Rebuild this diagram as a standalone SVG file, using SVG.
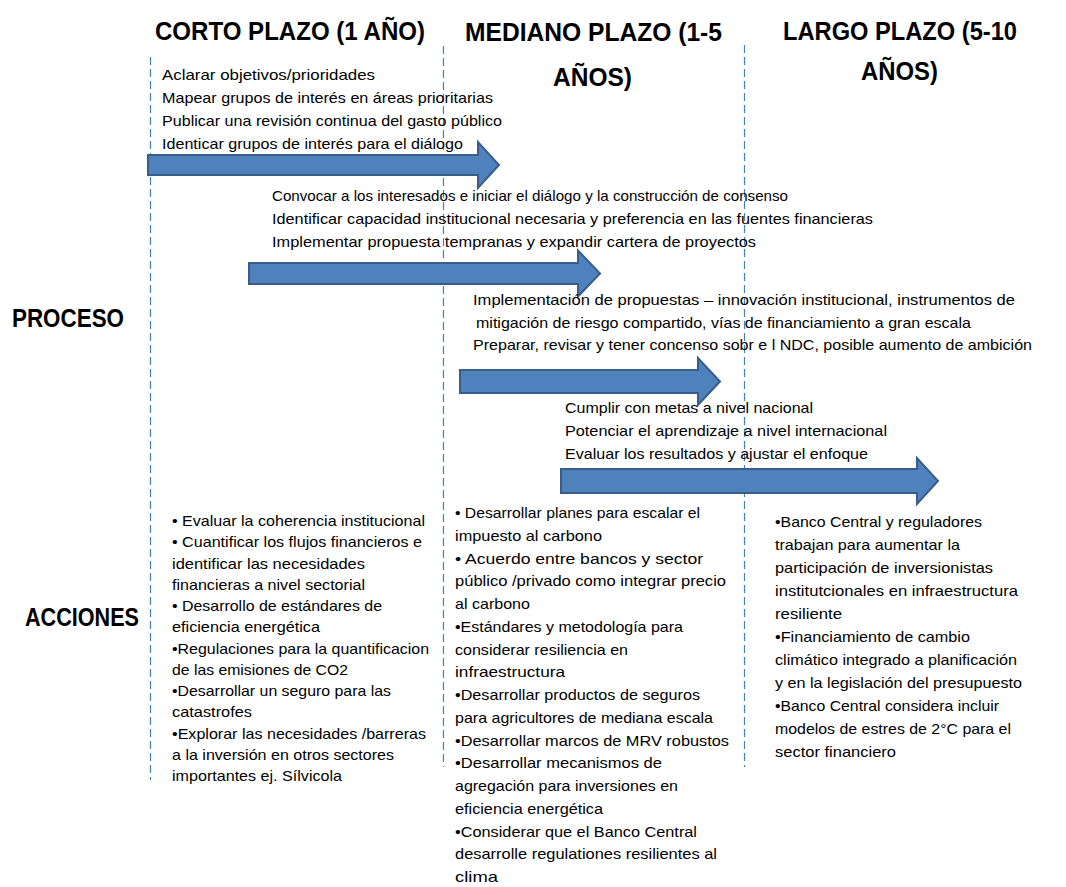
<svg xmlns="http://www.w3.org/2000/svg" width="1066" height="887" viewBox="0 0 1066 887">
<style>
.h{font-family:"Liberation Sans",Arial,sans-serif;font-weight:bold;font-size:26px;fill:#000}
.t{font-family:"Liberation Sans",Arial,sans-serif;font-size:15px;fill:#000}
.grid{stroke:#4a7ebb;stroke-width:1.2;stroke-dasharray:8 4;fill:none}
.arr{fill:#4f81bd;stroke:#385d8a;stroke-width:2}
</style>
<rect width="1066" height="887" fill="#fff"/>
<g id="gridlines">
<line class="grid" x1="150.5" y1="57" x2="150.5" y2="780"/>
<line class="grid" x1="443.5" y1="46" x2="443.5" y2="767"/>
<line class="grid" x1="744.5" y1="45" x2="744.5" y2="767"/>
</g>
<g id="connectors">
<path class="arr" d="M148,155 H478 V142 L499,165 L478,188 V175 H148 Z"/>
<path class="arr" d="M249,263 H578 V250.5 L600,273.5 L578,296.5 V284 H249 Z"/>
<path class="arr" d="M460,370 H698 V358 L720,381.5 L698,405 V393 H460 Z"/>
<path class="arr" d="M561,469 H917 V458 L938,481 L917,504 V493 H561 Z"/>
</g>
<g id="header-corto"><text class="h" x="155" y="40" textLength="270" lengthAdjust="spacingAndGlyphs">CORTO PLAZO (1 AÑO)</text></g>
<g id="header-mediano">
<text class="h" x="465" y="41" textLength="257" lengthAdjust="spacingAndGlyphs">MEDIANO PLAZO (1-5</text>
<text class="h" x="553" y="86" textLength="79" lengthAdjust="spacingAndGlyphs">AÑOS)</text>
</g>
<g id="header-largo">
<text class="h" x="783" y="40" textLength="234" lengthAdjust="spacingAndGlyphs">LARGO PLAZO (5-10</text>
<text class="h" x="861" y="80" textLength="77" lengthAdjust="spacingAndGlyphs">AÑOS)</text>
</g>
<g id="label-proceso"><text class="h" x="12" y="327" textLength="112" lengthAdjust="spacingAndGlyphs">PROCESO</text></g>
<g id="label-acciones"><text class="h" x="25" y="626" textLength="114" lengthAdjust="spacingAndGlyphs">ACCIONES</text></g>
<g id="proceso-1">
<text class="t" x="162" y="80" textLength="213" lengthAdjust="spacingAndGlyphs">Aclarar objetivos/prioridades</text>
<text class="t" x="162" y="103" textLength="331" lengthAdjust="spacingAndGlyphs">Mapear grupos de interés en áreas prioritarias</text>
<text class="t" x="162" y="126" textLength="340" lengthAdjust="spacingAndGlyphs">Publicar una revisión continua del gasto público</text>
<text class="t" x="162" y="149" textLength="301" lengthAdjust="spacingAndGlyphs">Identicar grupos de interés para el diálogo</text>
</g>
<g id="proceso-2">
<text class="t" x="272" y="201" textLength="516" lengthAdjust="spacingAndGlyphs">Convocar a los interesados e iniciar el diálogo y la construcción de consenso</text>
<text class="t" x="272" y="224" textLength="601" lengthAdjust="spacingAndGlyphs">Identificar capacidad institucional necesaria y preferencia en las fuentes financieras</text>
<text class="t" x="272" y="247" textLength="484" lengthAdjust="spacingAndGlyphs">Implementar propuesta tempranas y expandir cartera de proyectos</text>
</g>
<g id="proceso-3">
<text class="t" x="473" y="305" textLength="542" lengthAdjust="spacingAndGlyphs">Implementación de propuestas – innovación institucional, instrumentos de</text>
<text class="t" x="476" y="327.5" textLength="495" lengthAdjust="spacingAndGlyphs">mitigación de riesgo compartido, vías de financiamiento a gran escala</text>
<text class="t" x="473" y="350" textLength="559" lengthAdjust="spacingAndGlyphs">Preparar, revisar y tener concenso sobr e l NDC, posible aumento de ambición</text>
</g>
<g id="proceso-4">
<text class="t" x="565" y="413" textLength="248" lengthAdjust="spacingAndGlyphs">Cumplir con metas a nivel nacional</text>
<text class="t" x="565" y="436" textLength="322" lengthAdjust="spacingAndGlyphs">Potenciar el aprendizaje a nivel internacional</text>
<text class="t" x="565" y="459" textLength="303" lengthAdjust="spacingAndGlyphs">Evaluar los resultados y ajustar el enfoque</text>
</g>
<g id="acciones-corto">
<text class="t" x="172" y="526" textLength="253" lengthAdjust="spacingAndGlyphs">• Evaluar la coherencia institucional</text>
<text class="t" x="172" y="547.3" textLength="250" lengthAdjust="spacingAndGlyphs">• Cuantificar los flujos financieros e</text>
<text class="t" x="172" y="568.5" textLength="193" lengthAdjust="spacingAndGlyphs">identificar las necesidades</text>
<text class="t" x="172" y="589.8" textLength="193" lengthAdjust="spacingAndGlyphs">financieras a nivel sectorial</text>
<text class="t" x="172" y="611" textLength="210" lengthAdjust="spacingAndGlyphs">• Desarrollo de estándares de</text>
<text class="t" x="172" y="632.3" textLength="148" lengthAdjust="spacingAndGlyphs">eficiencia energética</text>
<text class="t" x="172" y="653.5" textLength="257" lengthAdjust="spacingAndGlyphs">•Regulaciones para la quantificacion</text>
<text class="t" x="172" y="674.8" textLength="176" lengthAdjust="spacingAndGlyphs">de las emisiones de  CO2</text>
<text class="t" x="172" y="696" textLength="219" lengthAdjust="spacingAndGlyphs">•Desarrollar un seguro para las</text>
<text class="t" x="172" y="717.3" textLength="80" lengthAdjust="spacingAndGlyphs">catastrofes</text>
<text class="t" x="172" y="738.5" textLength="254" lengthAdjust="spacingAndGlyphs">•Explorar las necesidades /barreras</text>
<text class="t" x="172" y="759.8" textLength="222" lengthAdjust="spacingAndGlyphs">a la inversión en otros sectores</text>
<text class="t" x="172" y="781" textLength="170" lengthAdjust="spacingAndGlyphs">importantes ej. Sílvicola</text>
</g>
<g id="acciones-mediano">
<text class="t" x="455" y="518" textLength="245" lengthAdjust="spacingAndGlyphs">• Desarrollar planes para escalar el</text>
<text class="t" x="455" y="540.8" textLength="147" lengthAdjust="spacingAndGlyphs">impuesto al carbono</text>
<text class="t" x="455" y="563.5" textLength="248" lengthAdjust="spacingAndGlyphs">• Acuerdo entre bancos y sector</text>
<text class="t" x="455" y="586.3" textLength="271" lengthAdjust="spacingAndGlyphs">público /privado como integrar precio</text>
<text class="t" x="455" y="609" textLength="75" lengthAdjust="spacingAndGlyphs">al carbono</text>
<text class="t" x="455" y="631.8" textLength="228" lengthAdjust="spacingAndGlyphs">•Estándares y metodología para</text>
<text class="t" x="455" y="654.5" textLength="173" lengthAdjust="spacingAndGlyphs">considerar resiliencia en</text>
<text class="t" x="455" y="677.3" textLength="110" lengthAdjust="spacingAndGlyphs">infraestructura</text>
<text class="t" x="455" y="700" textLength="245" lengthAdjust="spacingAndGlyphs">•Desarrollar productos de seguros</text>
<text class="t" x="455" y="722.8" textLength="258" lengthAdjust="spacingAndGlyphs">para agricultores de mediana escala</text>
<text class="t" x="455" y="745.5" textLength="274" lengthAdjust="spacingAndGlyphs">•Desarrollar  marcos de MRV robustos</text>
<text class="t" x="455" y="768.3" textLength="207" lengthAdjust="spacingAndGlyphs">•Desarrollar mecanismos de</text>
<text class="t" x="455" y="791" textLength="223" lengthAdjust="spacingAndGlyphs">agregación para inversiones en</text>
<text class="t" x="455" y="813.8" textLength="148" lengthAdjust="spacingAndGlyphs">eficiencia energética</text>
<text class="t" x="455" y="836.5" textLength="242" lengthAdjust="spacingAndGlyphs">•Considerar  que el Banco Central</text>
<text class="t" x="455" y="859.3" textLength="262" lengthAdjust="spacingAndGlyphs">desarrolle regulationes resilientes al</text>
<text class="t" x="455" y="882" textLength="43" lengthAdjust="spacingAndGlyphs">clima</text>
</g>
<g id="acciones-largo">
<text class="t" x="775" y="527" textLength="207" lengthAdjust="spacingAndGlyphs">•Banco Central y reguladores</text>
<text class="t" x="775" y="550" textLength="185" lengthAdjust="spacingAndGlyphs">trabajan para aumentar la</text>
<text class="t" x="775" y="573" textLength="218" lengthAdjust="spacingAndGlyphs">participación de inversionistas</text>
<text class="t" x="775" y="596" textLength="243" lengthAdjust="spacingAndGlyphs">institutcionales en infraestructura</text>
<text class="t" x="775" y="619" textLength="67" lengthAdjust="spacingAndGlyphs">resiliente</text>
<text class="t" x="775" y="642" textLength="195" lengthAdjust="spacingAndGlyphs">•Financiamiento de cambio</text>
<text class="t" x="775" y="665" textLength="242" lengthAdjust="spacingAndGlyphs">climático integrado a planificación</text>
<text class="t" x="775" y="688" textLength="247" lengthAdjust="spacingAndGlyphs">y en la legislación del presupuesto</text>
<text class="t" x="775" y="711" textLength="224" lengthAdjust="spacingAndGlyphs">•Banco Central considera incluir</text>
<text class="t" x="775" y="734" textLength="236" lengthAdjust="spacingAndGlyphs">modelos de estres de 2°C para el</text>
<text class="t" x="775" y="757" textLength="121" lengthAdjust="spacingAndGlyphs">sector financiero</text>
</g>
</svg>
